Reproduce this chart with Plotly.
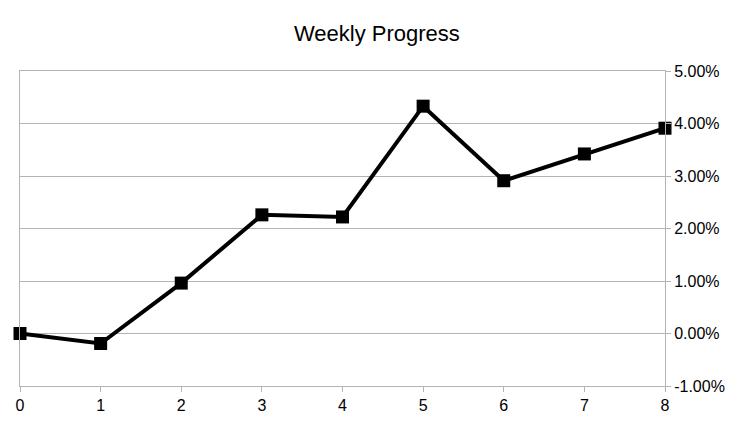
import plotly.graph_objects as go

weeks = [0, 1, 2, 3, 4, 5, 6, 7, 8]
progress = [0.0, -0.0019, 0.0096, 0.0226, 0.0222, 0.0433, 0.0291, 0.0342, 0.0391]
pct_ticks = [-0.01, 0.0, 0.01, 0.02, 0.03, 0.04, 0.05]
pct_labels = ["-1.00%", "0.00%", "1.00%", "2.00%", "3.00%", "4.00%", "5.00%"]

grid_color = "#b3b3b3"

fig = go.Figure()
fig.add_trace(go.Scatter(
    x=weeks, y=progress, mode="lines+markers",
    line=dict(color="black", width=4),
    marker=dict(symbol="square", size=13, color="black"),
    cliponaxis=False, showlegend=False,
))

# the page body adds an 8px offset, margins shifted to compensate
fig.update_layout(
    width=756, height=426,
    margin=dict(l=8, r=99, t=63, b=48),
    paper_bgcolor="white", plot_bgcolor="white",
    font=dict(family="Liberation Sans", size=16, color="black"),
    title=dict(text="Weekly Progress", x=0.488, xanchor="center", y=0.941, yanchor="middle",
               font=dict(size=22)),
    xaxis=dict(range=[0, 8], dtick=1, showgrid=False, zeroline=False,
               showline=True, linecolor=grid_color, linewidth=1, mirror=True,
               ticks="outside", ticklen=5, tickcolor=grid_color),
    yaxis=dict(range=[-0.01, 0.05], tickvals=pct_ticks, ticktext=pct_labels, side="right",
               showgrid=True, gridcolor=grid_color, zeroline=False,
               showline=True, linecolor=grid_color, linewidth=1, mirror=True,
               ticks="outside", ticklen=5, tickcolor=grid_color),
)

fig.write_html("out.html")
